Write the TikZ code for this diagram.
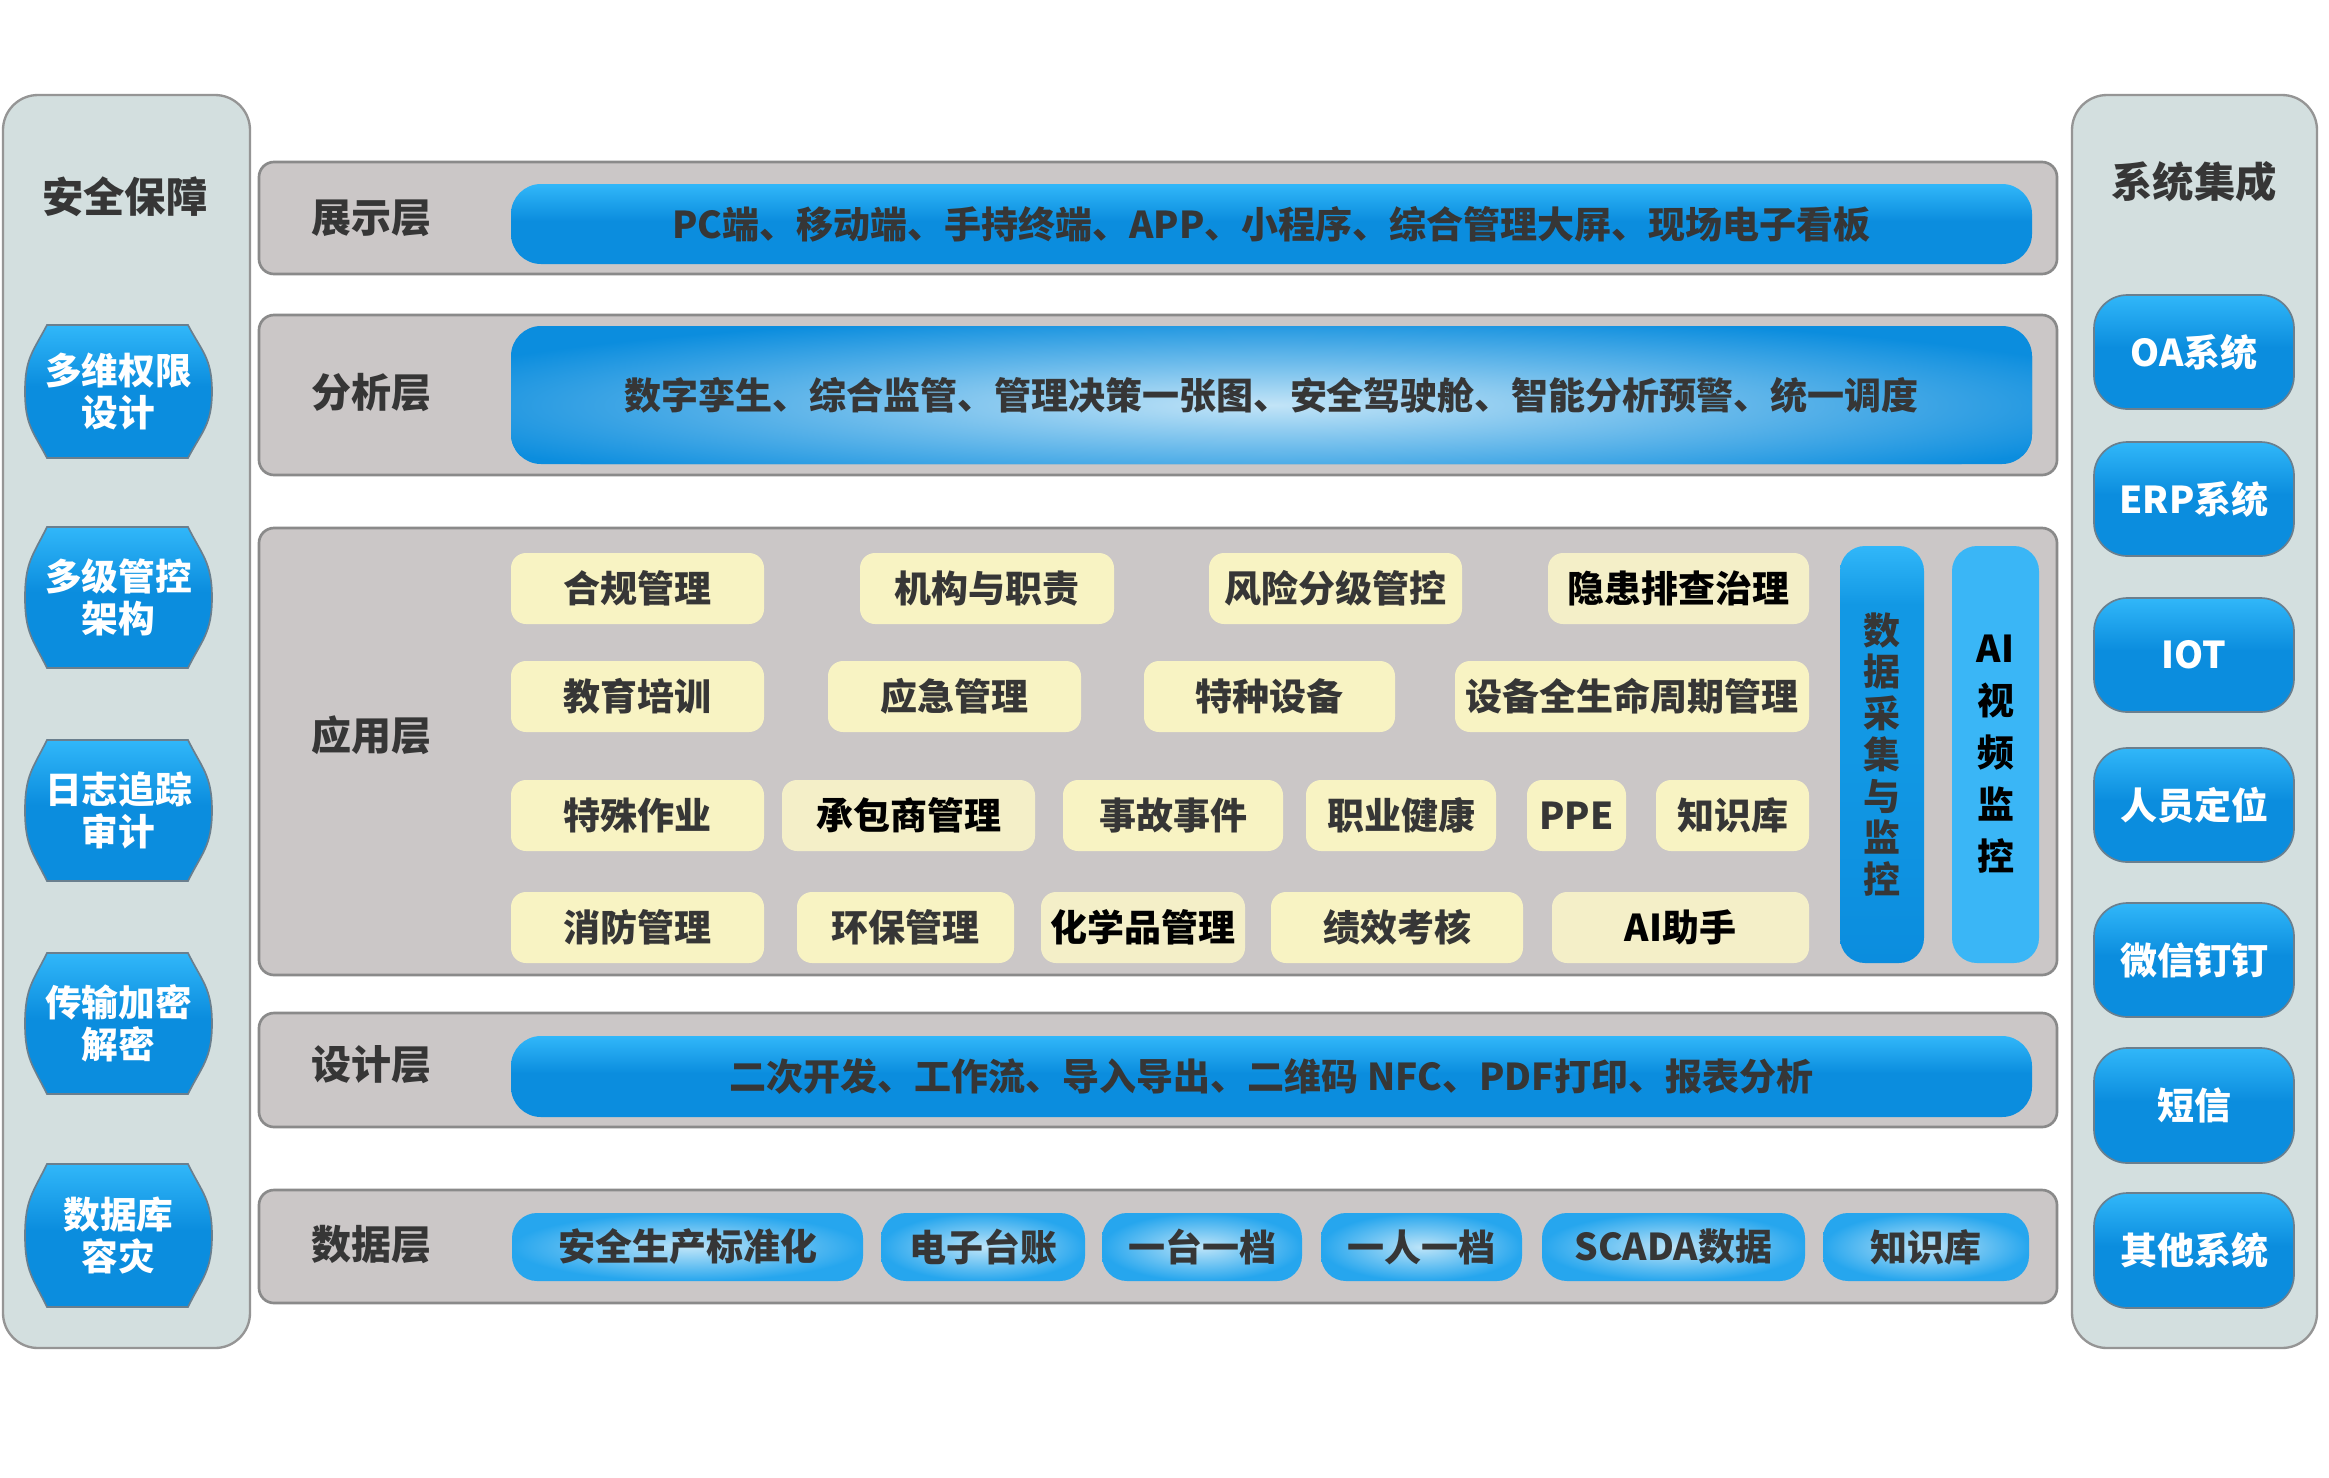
\documentclass[tikz,border=0pt]{standalone}
\usepackage{fontspec}
\setmainfont{Noto Sans CJK SC}
\definecolor{bdark}{HTML}{0B8DDE}
\definecolor{blight}{HTML}{31B7F9}
\definecolor{layerfill}{HTML}{CBC7C7}
\definecolor{layerdraw}{HTML}{8A8A8A}
\definecolor{panelfill}{HTML}{D3DFDF}
\definecolor{paneldraw}{HTML}{959595}
\definecolor{yel}{HTML}{F8F3C3}
\definecolor{yeltwo}{HTML}{F4EFC8}
\definecolor{txt}{HTML}{363636}
\definecolor{glowc}{HTML}{C2E4F7}
\definecolor{itemc}{HTML}{BDE4F8}
\definecolor{itemo}{HTML}{26A6EE}
\definecolor{aiblue}{HTML}{3AB6F6}
\definecolor{btndraw}{HTML}{6A7F8E}
\definecolor{vmid}{HTML}{1298E4}

\pgfdeclareverticalshading{btnshade}{100bp}{color(0bp)=(bdark); color(25bp)=(bdark); color(52bp)=(bdark); color(75bp)=(blight); color(100bp)=(blight)}
\pgfdeclareverticalshading{vbarshade}{100bp}{color(0bp)=(bdark); color(25bp)=(bdark); color(50bp)=(vmid); color(68bp)=(vmid); color(75bp)=(blight); color(100bp)=(blight)}

\newcommand\placebox[7]{%
  \node[#6, minimum width={(#4-(#2))*0.3pt}, minimum height={(#5-(#3))*0.3pt}] (#1) at ({(#2+#4)/2},{(#3+#5)/2}) {#7};}

\newcommand\hexbtn[4]{%
  \pgfmathsetmacro\hm{(#2+#3)/2}%
  \pgfmathsetmacro\hh{#3-#2}%
  \path[hexsty] (47,#2) -- (188,#2)
     .. controls (202,{#2+0.2*\hh}) and (212,{\hm-0.25*\hh}) .. (212,\hm)
     .. controls (212,{\hm+0.25*\hh}) and (202,{#3-0.2*\hh}) .. (188,#3)
     -- (47,#3)
     .. controls (33,{#3-0.2*\hh}) and (25,{\hm+0.25*\hh}) .. (25,\hm)
     .. controls (25,{\hm-0.25*\hh}) and (33,{#2+0.2*\hh}) .. cycle;
  \node[hextext] (#1) at (118.5,\hm) {#4};}

\begin{document}
\begin{tikzpicture}[x=0.3pt,y=-0.3pt,
  sidepanel/.style={draw=paneldraw, line width=0.7pt, fill=panelfill, rounded corners=10.5pt, inner sep=0pt, outer sep=0pt},
  layerbox/.style={draw=layerdraw, line width=0.8pt, fill=layerfill, rounded corners=4.5pt, inner sep=0pt, outer sep=0pt},
  bartext/.style={text=txt, font=\bfseries\fontsize{11.1}{13}\selectfont, inner sep=0pt},
  bluebar/.style={shade, shading=btnshade, rounded corners=9pt, inner sep=0pt, outer sep=0pt, text=txt, font=\bfseries\fontsize{11.1}{13}\selectfont},
  dataitem/.style={inner color=itemc, outer color=itemo, rounded corners=7.5pt, inner sep=0pt, outer sep=0pt, text=txt, font=\bfseries\fontsize{11.1}{13}\selectfont},
  ybox/.style={fill=yel, rounded corners=4.5pt, inner sep=0pt, outer sep=0pt, text=txt, font=\bfseries\fontsize{11.1}{13}\selectfont},
  yboxk/.style={ybox, fill=yeltwo, text=black},
  sbtn/.style={shade, shading=btnshade, draw=btndraw, line width=0.5pt, rounded corners=10pt, inner sep=0pt, outer sep=0pt, text=white, font=\bfseries\fontsize{11.1}{13}\selectfont},
  hexsty/.style={shade, shading=btnshade, draw=btndraw, line width=0.5pt},
  hextext/.style={text=white, font=\bfseries\fontsize{11}{12.6}\selectfont, align=center, inner sep=0pt},
  lbl/.style={text=txt, font=\bfseries\fontsize{12}{14}\selectfont, inner sep=0pt},
  ttl/.style={text=txt, font=\bfseries\fontsize{12.4}{14}\selectfont, inner sep=0pt},
  vbar/.style={shade, shading=vbarshade, rounded corners=7.5pt, inner sep=0pt, outer sep=0pt, text=txt, align=center, font=\bfseries\fontsize{11.1}{12.45}\selectfont},
  aibar/.style={fill=aiblue, rounded corners=7.5pt, inner sep=0pt, outer sep=0pt, text=black, align=center, font=\bfseries\fontsize{11.1}{15.6}\selectfont}
]
\useasboundingbox[fill=white] (0,0) rectangle (2329,1478);

% ---------- left panel ----------
\placebox{lpanel}{3}{95}{250}{1348}{sidepanel}{}
\node[ttl] (ltitle) at (125,197) {安全保障};
\hexbtn{h1}{325}{458}{多维权限\\设计}
\hexbtn{h2}{527}{668}{多级管控\\架构}
\hexbtn{h3}{740}{881}{日志追踪\\审计}
\hexbtn{h4}{953}{1094}{传输加密\\解密}
\hexbtn{h5}{1164}{1307}{数据库\\容灾}

% ---------- right panel ----------
\placebox{rpanel}{2072}{95}{2317}{1348}{sidepanel}{}
\node[ttl] (rtitle) at (2194,182) {系统集成};
\placebox{r1}{2094}{295}{2294}{409}{sbtn}{OA系统}
\placebox{r2}{2094}{442}{2294}{556}{sbtn}{ERP系统}
\placebox{r3}{2094}{598}{2294}{712}{sbtn}{IOT}
\placebox{r4}{2094}{748}{2294}{862}{sbtn}{人员定位}
\placebox{r5}{2094}{903}{2294}{1017}{sbtn}{微信钉钉}
\placebox{r6}{2094}{1048}{2294}{1163}{sbtn}{短信}
\placebox{r7}{2094}{1193}{2294}{1308}{sbtn}{其他系统}

% ---------- layers ----------
\placebox{Lshow}{259}{162}{2057}{274}{layerbox}{}
\node[lbl] (tshow) at (371,218) {展示层};
\placebox{Bshow}{511}{184}{2032}{264}{bluebar}{PC端、移动端、手持终端、APP、小程序、综合管理大屏、现场电子看板}

\placebox{Lana}{259}{315}{2057}{475}{layerbox}{}
\node[lbl] (tana) at (371,393) {分析层};
\placebox{Bana}{511}{326}{2032}{464}{fill=bdark, rounded corners=9pt, inner sep=0pt, outer sep=0pt}{}
\begin{scope}
  \clip[rounded corners=9pt] (511,326) rectangle (2032,464);
  \shade[inner color=glowc, outer color=bdark] (1271,405) ellipse [x radius=900, y radius=92];
\end{scope}
\node[bartext] (tBana) at (Bana.center) {数字孪生、综合监管、管理决策一张图、安全驾驶舱、智能分析预警、统一调度};

\placebox{Lapp}{259}{528}{2057}{975}{layerbox}{}
\node[lbl] (tapp) at (371,735) {应用层};
% row 1
\placebox{a11}{511}{553}{764}{624}{ybox}{合规管理}
\placebox{a12}{860}{553}{1114}{624}{ybox}{机构与职责}
\placebox{a13}{1209}{553}{1462}{624}{ybox}{风险分级管控}
\placebox{a14}{1548}{553}{1809}{624}{yboxk}{隐患排查治理}
% row 2
\placebox{a21}{511}{661}{764}{732}{ybox}{教育培训}
\placebox{a22}{828}{661}{1081}{732}{ybox}{应急管理}
\placebox{a23}{1144}{661}{1395}{732}{ybox}{特种设备}
\placebox{a24}{1455}{661}{1809}{732}{ybox}{设备全生命周期管理}
% row 3
\placebox{a31}{511}{780}{764}{851}{ybox}{特殊作业}
\placebox{a32}{782}{780}{1035}{851}{yboxk}{承包商管理}
\placebox{a33}{1063}{780}{1283}{851}{ybox}{事故事件}
\placebox{a34}{1306}{780}{1496}{851}{ybox}{职业健康}
\placebox{a35}{1527}{780}{1626}{851}{ybox}{PPE}
\placebox{a36}{1656}{780}{1809}{851}{ybox}{知识库}
% row 4
\placebox{a41}{511}{892}{764}{963}{ybox}{消防管理}
\placebox{a42}{797}{892}{1014}{963}{ybox}{环保管理}
\placebox{a43}{1041}{892}{1245}{963}{yboxk}{化学品管理}
\placebox{a44}{1271}{892}{1523}{963}{ybox}{绩效考核}
\placebox{a45}{1552}{892}{1809}{963}{yboxk}{AI助手}
% vertical bars
\placebox{vdata}{1840}{546}{1924}{963}{vbar}{数\\据\\采\\集\\与\\监\\控}
\placebox{vai}{1952}{546}{2039}{963}{aibar}{AI\\视\\频\\监\\控}

\placebox{Ldes}{259}{1013}{2057}{1127}{layerbox}{}
\node[lbl] (tdes) at (371,1065) {设计层};
\placebox{Bdes}{511}{1036}{2032}{1117}{bluebar}{二次开发、工作流、导入导出、二维码 NFC、PDF打印、报表分析}

\placebox{Ldat}{259}{1190}{2057}{1303}{layerbox}{}
\node[lbl] (tdat) at (371,1245) {数据层};
\placebox{d1}{512}{1213}{863}{1281}{dataitem}{安全生产标准化}
\placebox{d2}{881}{1213}{1085}{1281}{dataitem}{电子台账}
\placebox{d3}{1102}{1213}{1302}{1281}{dataitem}{一台一档}
\placebox{d4}{1321}{1213}{1522}{1281}{dataitem}{一人一档}
\placebox{d5}{1542}{1213}{1805}{1281}{dataitem}{SCADA数据}
\placebox{d6}{1823}{1213}{2029}{1281}{dataitem}{知识库}
\end{tikzpicture}
\end{document}
